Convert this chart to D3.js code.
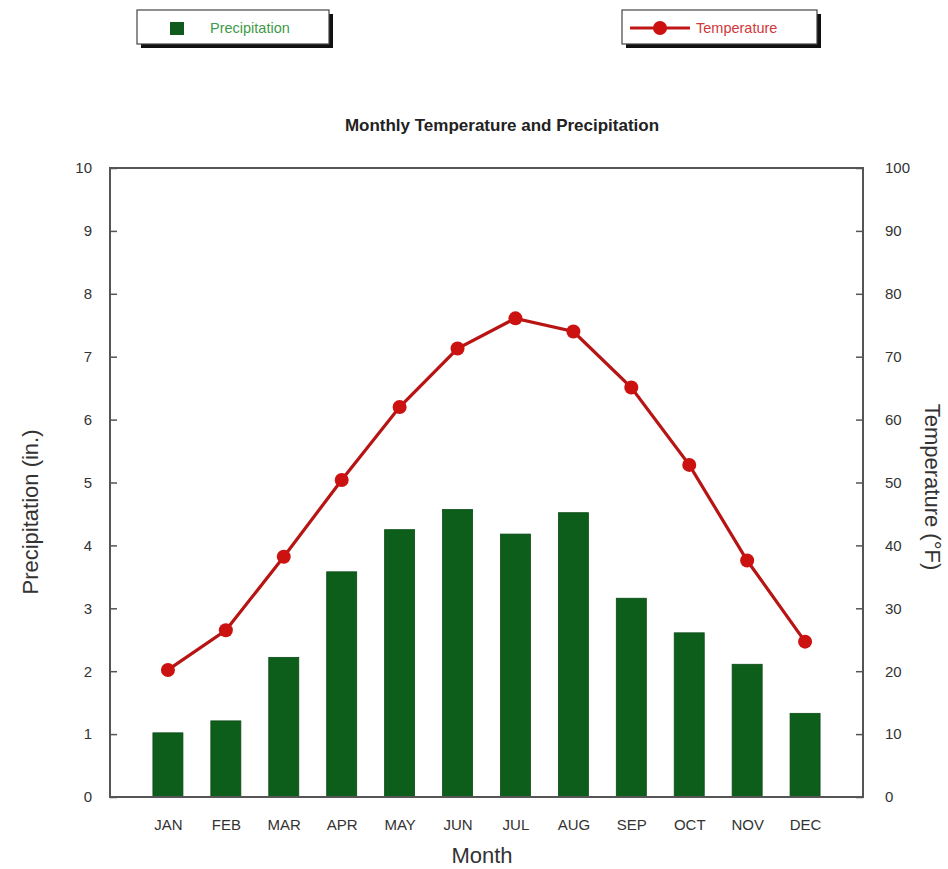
<!DOCTYPE html>
<html>
<head>
<meta charset="utf-8">
<script src="https://cdn.jsdelivr.net/npm/d3@7"></script>
<style>
  html, body { margin: 0; padding: 0; background: #fff; }
  svg { display: block; }
  text { font-family: "Liberation Sans", Arial, Helvetica, sans-serif; }
</style>
</head>
<body>
<svg id="chart" width="948" height="869"></svg>
<script>
const months = ["JAN","FEB","MAR","APR","MAY","JUN","JUL","AUG","SEP","OCT","NOV","DEC"];
const precipitation = [1.02, 1.21, 2.22, 3.58, 4.25, 4.57, 4.18, 4.52, 3.16, 2.61, 2.11, 1.33];
const temperature = [20.2, 26.5, 38.2, 50.4, 62.0, 71.3, 76.1, 74.0, 65.1, 52.8, 37.6, 24.7];
const precipTicks = [0,1,2,3,4,5,6,7,8,9,10];
const tempTicks = [0,10,20,30,40,50,60,70,80,90,100];

const svg = d3.select("#chart");
const L = 110, R = 863, T = 168, B = 797;

const x = d3.scalePoint().domain(months).range([L, R]).padding(1);
const yP = d3.scaleLinear().domain([0, 10]).range([B, T]);
const yT = d3.scaleLinear().domain([0, 100]).range([B, T]);

// Legends
function legendBox(x0, y0, w, h) {
  svg.append("rect").attr("x", x0 + 4).attr("y", y0 + 4).attr("width", w).attr("height", h).attr("fill", "#111");
  svg.append("rect").attr("x", x0).attr("y", y0).attr("width", w).attr("height", h)
    .attr("fill", "#fff").attr("stroke", "#444").attr("stroke-width", 1.2);
}
legendBox(137, 10, 192, 34);
svg.append("rect").attr("x", 170).attr("y", 22).attr("width", 14).attr("height", 13).attr("fill", "#0f5a1c");
svg.append("text").attr("x", 210).attr("y", 33).attr("font-size", 14.5).attr("fill", "#3f9a4a").text("Precipitation");

legendBox(622, 10, 195, 34);
svg.append("line").attr("x1", 630).attr("x2", 690).attr("y1", 28).attr("y2", 28).attr("stroke", "#c01818").attr("stroke-width", 3);
svg.append("circle").attr("cx", 660).attr("cy", 28).attr("r", 7).attr("fill", "#cc1111");
svg.append("text").attr("x", 696).attr("y", 33).attr("font-size", 14.5).attr("fill", "#d0383c").text("Temperature");

// Title
svg.append("text").attr("x", 502).attr("y", 131).attr("text-anchor", "middle")
  .attr("font-size", 17).attr("font-weight", "bold").attr("fill", "#222")
  .text("Monthly Temperature and Precipitation");

// Bars
const barW = 30;
svg.append("g").selectAll("rect").data(months).join("rect")
  .attr("x", d => x(d) - barW / 2)
  .attr("y", (d, i) => yP(precipitation[i]))
  .attr("width", barW)
  .attr("height", (d, i) => B - yP(precipitation[i]))
  .attr("fill", "#0d5e1b")
  .attr("stroke", "#0a4a15").attr("stroke-width", 0.8);

// Frame
svg.append("rect").attr("x", L).attr("y", T).attr("width", R - L).attr("height", B - T)
  .attr("fill", "none").attr("stroke", "#555").attr("stroke-width", 2);

// Left axis
const leftAxis = d3.axisLeft(yP).tickValues(precipTicks).tickSize(-7).tickPadding(18).tickFormat(d3.format("d"));
const gL = svg.append("g").attr("transform", `translate(${L},0)`).call(leftAxis);
gL.select(".domain").remove();
gL.selectAll(".tick line").attr("stroke", "#555").attr("stroke-width", 1.5);
gL.selectAll(".tick text").attr("font-size", 15).attr("fill", "#333")
  .attr("font-family", "Liberation Sans, Arial, sans-serif");

// Right axis
const rightAxis = d3.axisRight(yT).tickValues(tempTicks).tickSize(-7).tickPadding(22).tickFormat(d3.format("d"));
const gR = svg.append("g").attr("transform", `translate(${R},0)`).call(rightAxis);
gR.select(".domain").remove();
gR.selectAll(".tick line").attr("stroke", "#555").attr("stroke-width", 1.5);
gR.selectAll(".tick text").attr("font-size", 15).attr("fill", "#333")
  .attr("font-family", "Liberation Sans, Arial, sans-serif");

// Bottom axis labels
const bottomAxis = d3.axisBottom(x).tickSize(0).tickPadding(22);
const gB = svg.append("g").attr("transform", `translate(0,${B})`).call(bottomAxis);
gB.select(".domain").remove();
gB.selectAll(".tick text").attr("font-size", 15).attr("fill", "#333")
  .attr("font-family", "Liberation Sans, Arial, sans-serif");

// Axis titles
svg.append("text").attr("x", 482).attr("y", 863).attr("text-anchor", "middle")
  .attr("font-size", 22).attr("fill", "#333").text("Month");
svg.append("text").attr("transform", "translate(38,512) rotate(-90)").attr("text-anchor", "middle")
  .attr("font-size", 22).attr("fill", "#333").text("Precipitation (in.)");
svg.append("text").attr("transform", "translate(925,487) rotate(90)").attr("text-anchor", "middle")
  .attr("font-size", 22).attr("fill", "#333").text("Temperature (°F)");

// Temperature line
const line = d3.line().x((d, i) => x(months[i])).y(d => yT(d));
svg.append("path").datum(temperature).attr("d", line)
  .attr("fill", "none").attr("stroke", "#b81414").attr("stroke-width", 3.2);
svg.append("g").selectAll("circle").data(temperature).join("circle")
  .attr("cx", (d, i) => x(months[i])).attr("cy", d => yT(d)).attr("r", 7)
  .attr("fill", "#cc1111");
</script>
</body>
</html>
